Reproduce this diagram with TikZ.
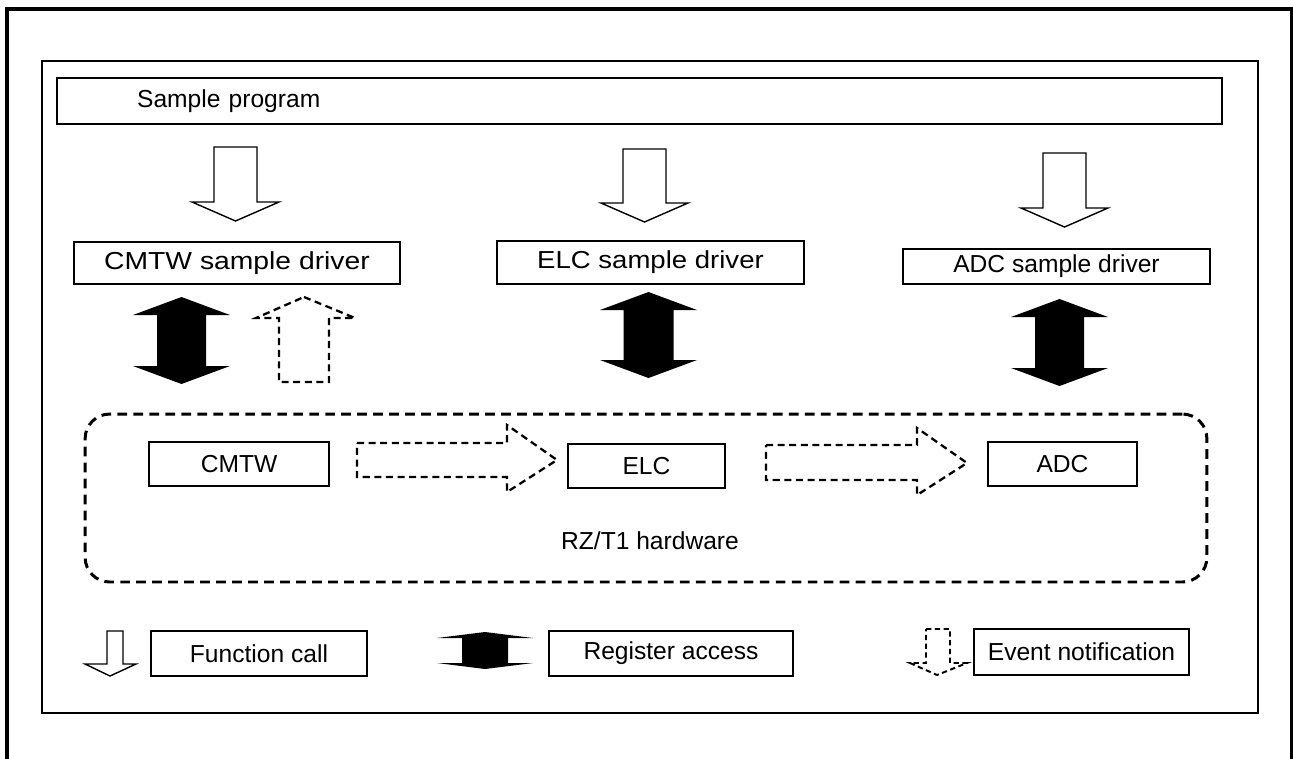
\documentclass[tikz,border=0pt]{standalone}
\usepackage{fontspec}
\setmainfont{Liberation Sans}
\usepackage{tikz}
\usetikzlibrary{positioning}

\begin{document}
\begin{tikzpicture}[
  x=0.02cm, y=-0.02cm,
  font=\fontsize{14}{17}\selectfont,
  box/.style={draw, line width=0.9pt, inner sep=0pt, align=center},
  wide/.style={font=\fontsize{14}{17}\selectfont\addfontfeature{FakeStretch=#1}},
  hwbox/.style={draw, line width=1.7pt, dash pattern=on 5.5pt off 3.6pt,
    rounded corners=14pt, inner sep=0pt},
  callarrow/.style={draw, fill=white, line width=0.8pt, line join=miter},
  regarrow/.style={fill=black},
  eventarrow/.style={draw, line width=1.3pt, dash pattern=on 4pt off 2.6pt},
]
  \useasboundingbox (0,0) rectangle (1293,758);

  % Frames
  \draw[line width=1.8pt] (7,770) -- (7,9) -- (1292,9) -- (1292,770);
  \draw[line width=0.9pt] (42,61) rectangle (1258,713);

  % Sample program and drivers
  \node[box, minimum width=23.3cm, minimum height=0.92cm, text width=20.1cm,
    inner xsep=1.6cm, align=left] (prog) at (639.5,101) {Sample program};
  \node[box, wide=1.15, minimum width=6.52cm, minimum height=0.84cm] (cmtwdrv) at (237,263) {CMTW sample driver};
  \node[box, wide=1.12, minimum width=6.14cm, minimum height=0.86cm] (elcdrv) at (650.5,262.5) {ELC sample driver};
  \node[box, minimum width=6.14cm, minimum height=0.70cm] (adcdrv) at (1056.5,266.5) {ADC sample driver};

  % Hardware
  \node[hwbox, minimum width=22.44cm, minimum height=3.36cm] (hw) at (646,498) {};
  \node[box, minimum width=3.60cm, minimum height=0.88cm] (cmtw) at (239,464) {CMTW};
  \node[box, minimum width=3.14cm, minimum height=0.88cm] (elc) at (646.5,466) {ELC};
  \node[box, minimum width=2.98cm, minimum height=0.88cm] (adc) at (1062.5,464) {ADC};
  \node (hwlabel) at (650,541) {RZ/T1 hardware};

  % Legend
  \node[box, minimum width=4.32cm, minimum height=0.90cm] (fcall) at (259,653.5) {Function call};
  \node[box, minimum width=4.88cm, minimum height=0.90cm] (regacc) at (671,653.5) {Register access};
  \node[box, minimum width=4.30cm, minimum height=0.92cm] (evnote) at (1081.5,652) {Event notification};

  % Function calls (open arrows, pointing down)
  \foreach \xl/\xr/\wl/\wr/\xt/\yt/\yb/\yp in {214/257/192/279/235.5/147/202/221,
      623/666/601/688/644.5/149/203/222, 1043/1086/1021/1108/1064.5/153/208/227,
      107/123/85/136/110/631/664/676}
    \draw[callarrow] (\xl,\yt) -- (\xr,\yt) -- (\xr,\yb) -- (\wr,\yb) -- (\xt,\yp)
      -- (\wl,\yb) -- (\xl,\yb) -- cycle;

  % Register access (filled double arrows)
  \foreach \cx/\yt/\yb/\hh/\ww/\sw in {181.5/297/384/18/48.5/24.5,
      648.5/292/378/18/48.5/25, 1059.5/299/386/18/48.5/24.5, 485/632/669/6/48/23}
    \fill[regarrow] (\cx,\yt) -- ({\cx+\ww},{\yt+\hh}) -- ({\cx+\sw},{\yt+\hh})
      -- ({\cx+\sw},{\yb-\hh}) -- ({\cx+\ww},{\yb-\hh}) -- (\cx,\yb)
      -- ({\cx-\ww},{\yb-\hh}) -- ({\cx-\sw},{\yb-\hh}) -- ({\cx-\sw},{\yt+\hh})
      -- ({\cx-\ww},{\yt+\hh}) -- cycle;

  % Event notifications (dashed arrows)
  \draw[eventarrow] (304,297) -- (355,318) -- (329,318) -- (329,382) -- (279,382)
    -- (279,318) -- (256,318) -- cycle;
  \draw[eventarrow] (357,443) -- (507,443) -- (507,425) -- (557,460) -- (507,492)
    -- (507,477) -- (357,477) -- cycle;
  \draw[eventarrow] (766,445) -- (917,445) -- (917,428) -- (967,463) -- (917,495)
    -- (917,480) -- (766,480) -- cycle;
  \draw[eventarrow, dash pattern=on 3pt off 2pt, line width=1.1pt]
    (926,629) -- (950,629) -- (950,663) -- (967,663) -- (937,675) -- (910,663)
    -- (926,663) -- cycle;
\end{tikzpicture}
\end{document}
